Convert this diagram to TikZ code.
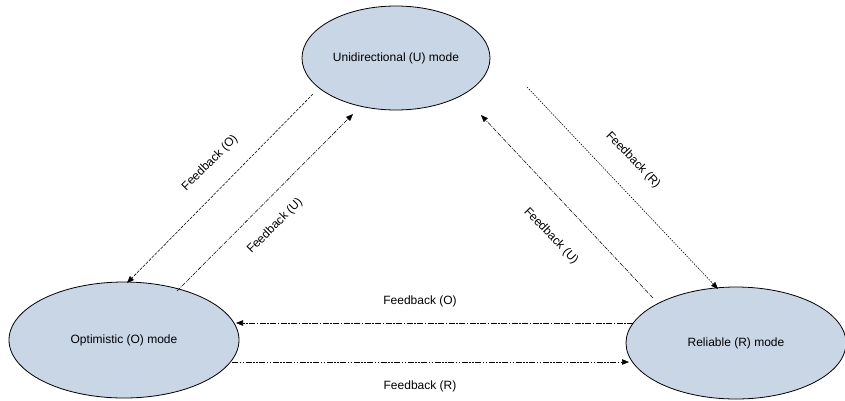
\documentclass[tikz,border=0pt]{standalone}
\usepackage{fontspec}
\setmainfont{Liberation Sans}
\usetikzlibrary{arrows.meta,shapes.geometric}
\definecolor{modefill}{HTML}{C9D6E6}
\begin{document}
\begin{tikzpicture}[x=1pt,y=-1pt,
  mode/.style={ellipse,draw=black,line width=0.8pt,fill=modefill,inner sep=0pt,
    font=\fontsize{12}{14}\selectfont},
  flow/.style={line width=0.55pt,-{Triangle[length=7pt,width=5.5pt]}},
  lbl/.style={font=\fontsize{12}{14}\selectfont,inner sep=1pt},
  dashA/.style={dash pattern=on 3pt off 1.2pt},
  dashB/.style={dash pattern=on 4pt off 1.2pt on 1pt off 1.2pt},
  dashC/.style={dash pattern=on 1.5pt off 1.2pt},
  dashD/.style={dash pattern=on 6pt off 1.5pt on 1.5pt off 1.5pt},
  dashE/.style={dash pattern=on 6pt off 1.5pt on 1.5pt off 1.5pt on 1.5pt off 1.5pt}]
\useasboundingbox (0,0) rectangle (845,400);
% the three operating modes
\node[mode,minimum width=188pt,minimum height=104pt] (U) at (396,58) {Unidirectional (U) mode};
\node[mode,minimum width=230pt,minimum height=116pt] (O) at (124,340) {Optimistic (O) mode};
\node[mode,minimum width=220pt,minimum height=112pt] (R) at (736,343) {Reliable (R) mode};

% anchor points on the ellipse borders
\coordinate (uo1) at (313,94);
\coordinate (uo2) at (127,283);
\coordinate (ou1) at (177,291);
\coordinate (ou2) at (353,114);
\coordinate (ur1) at (527,87);
\coordinate (ur2) at (718,289);
\coordinate (ru1) at (653,298);
\coordinate (ru2) at (481,115);
\coordinate (ro1) at (633,323);
\coordinate (ro2) at (236,323);
\coordinate (or1) at (232,362);
\coordinate (or2) at (629,362);

% transitions
\draw[flow,dashA] (uo1) -- (uo2);
\draw[flow,dashB] (ou1) -- (ou2);
\draw[flow,dashC] (ur1) -- (ur2);
\draw[flow,dashB] (ru1) -- (ru2);
\draw[flow,dashD] (ro1) -- (ro2);
\draw[flow,dashE] (or1) -- (or2);

% transition labels
\node[lbl,rotate=45] (l1) at (210,163) {Feedback (O)};
\node[lbl,rotate=45] (l2) at (275,226) {Feedback (U)};
\node[lbl,rotate=-46] (l3) at (633,160) {Feedback (R)};
\node[lbl,rotate=-46] (l4) at (551,236) {Feedback (U)};
\node[lbl] (l5) at (420,301) {Feedback (O)};
\node[lbl] (l6) at (420,386) {Feedback (R)};
\end{tikzpicture}
\end{document}
